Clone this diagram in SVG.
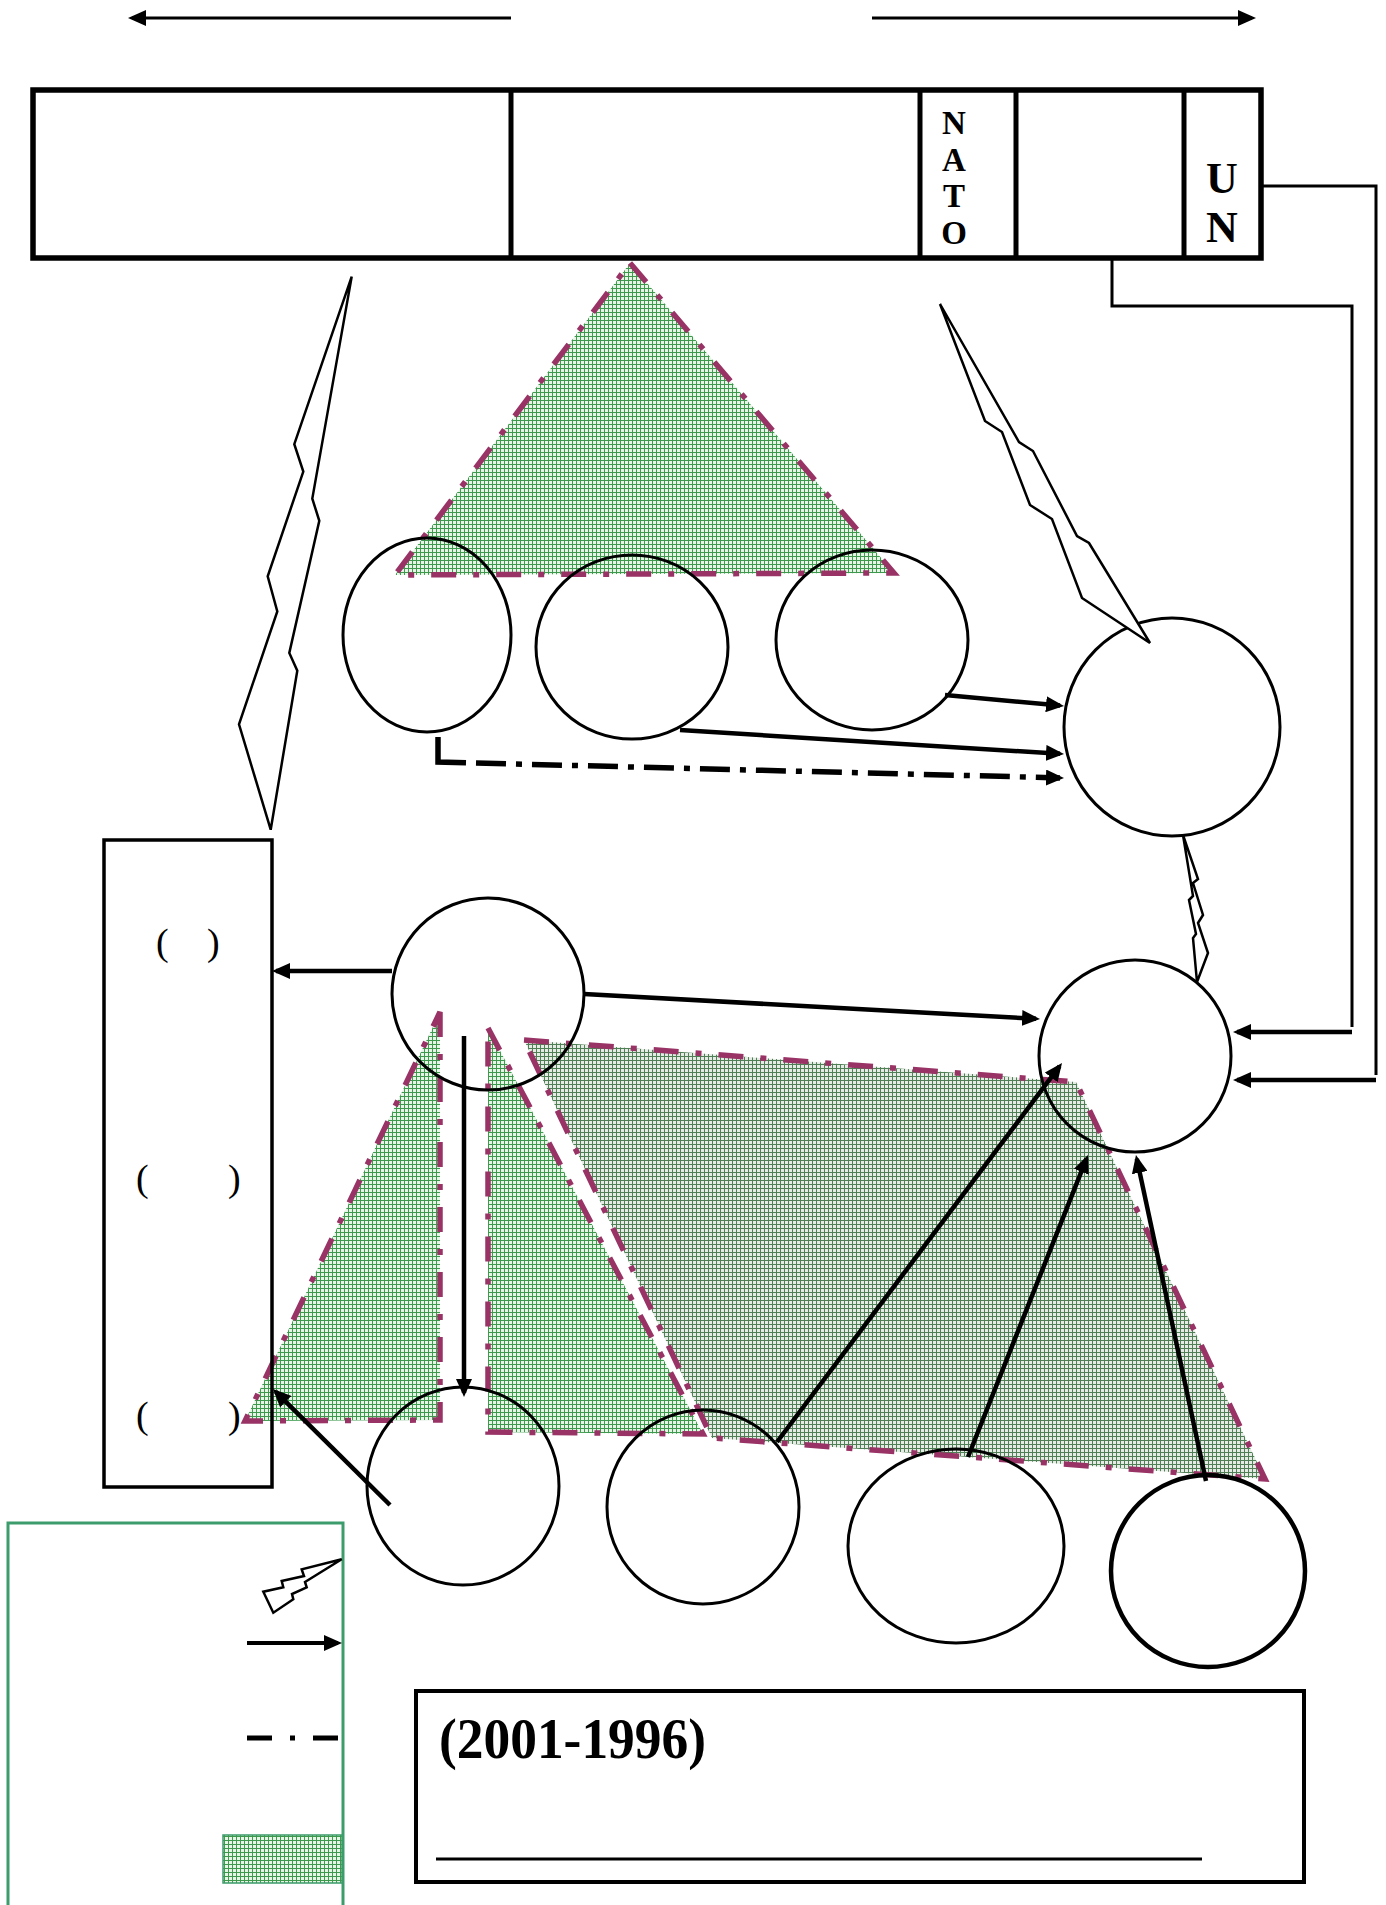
<svg xmlns="http://www.w3.org/2000/svg" width="1386" height="1905" viewBox="0 0 1386 1905">
<style>
.ln{fill:none;stroke:#000;stroke-width:3}
.th{fill:none;stroke:#000;stroke-width:5}
.ar{fill:none;stroke:#000;stroke-width:4.5;marker-end:url(#ah)}
.dd{fill:none;stroke:#000;stroke-width:5.5;stroke-dasharray:30 10 6 10}
.ov{fill:none;stroke:#000;stroke-width:3}
.shade{stroke:#993366;stroke-width:5.5;stroke-dasharray:25 17 6 17}
.bolt{fill:#fff;stroke:#000;stroke-width:2.5;stroke-linejoin:miter}
.tb{font-family:"Liberation Serif","Times New Roman",serif;font-weight:bold;text-anchor:middle}
.pr{font-family:"Liberation Serif","Times New Roman",serif;font-size:38px}
</style>
<defs>
<marker id="ah" markerUnits="userSpaceOnUse" markerWidth="18" markerHeight="16" viewBox="0 0 18 16" refX="14" refY="8" orient="auto"><path d="M0,0 L18,8 L0,16 z" fill="#000"/></marker>
<pattern id="g1" patternUnits="userSpaceOnUse" width="4" height="4"><rect width="4" height="4" fill="#e8f4e8"/><rect width="4" height="1" fill="#3d9a4d"/><rect width="1" height="4" fill="#3d9a4d"/></pattern>
<pattern id="g2" patternUnits="userSpaceOnUse" width="4" height="4"><rect width="4" height="4" fill="#e6ebe6"/><rect width="4" height="1" fill="#4f7f55"/><rect width="1" height="4" fill="#4f7f55"/></pattern>
</defs>
<rect width="1386" height="1905" fill="#fff"/>

<g id="regions">
<polygon class="shade" fill="url(#g1)" points="630,263 894,573 395,575"/>
<polygon class="shade" fill="url(#g2)" points="524,1040 1076,1082 1265,1479 712,1438"/>
<polygon class="shade" fill="url(#g1)" points="488,1028 703,1434 488,1432"/>
<polygon class="shade" fill="url(#g1)" points="440,1012 440,1420 245,1421"/>
</g>

<g id="topbar">
<rect x="33" y="90" width="1228" height="168" fill="none" stroke="#000" stroke-width="5.5"/>
<g id="cell-nato"><line class="th" x1="920" y1="90" x2="920" y2="258"/>
<text class="tb" font-size="33" x="954" y="134">N</text>
<text class="tb" font-size="33" x="954" y="171">A</text>
<text class="tb" font-size="33" x="954" y="207">T</text>
<text class="tb" font-size="33" x="954" y="244">O</text></g>
<line class="th" x1="511" y1="90" x2="511" y2="258"/>
<line class="th" x1="1016" y1="90" x2="1016" y2="258"/>
<g id="cell-un"><line class="th" x1="1184" y1="90" x2="1184" y2="258"/>
<text class="tb" font-size="44" x="1222" y="193">U</text>
<text class="tb" font-size="44" x="1222" y="242">N</text></g>
</g>

<g id="nodes">
<ellipse id="c1" class="ov" cx="427" cy="635" rx="84" ry="97"/>
<ellipse id="c2" class="ov" cx="632" cy="647" rx="96" ry="92"/>
<ellipse id="c3" class="ov" cx="872" cy="640" rx="96" ry="90"/>
<ellipse id="c4" class="ov" cx="1172" cy="727" rx="108" ry="109"/>
<ellipse id="c5" class="ov" cx="488" cy="994" rx="96" ry="96"/>
<ellipse id="c6" class="ov" cx="1135" cy="1056" rx="96" ry="96"/>
<ellipse id="c7" class="ov" cx="463" cy="1486" rx="96" ry="99"/>
<ellipse id="c8" class="ov" cx="703" cy="1507" rx="96" ry="97"/>
<ellipse id="c9" class="ov" cx="956" cy="1546" rx="108" ry="97"/>
<ellipse id="c10" cx="1208" cy="1571" rx="97" ry="96" fill="none" stroke="#000" stroke-width="4.5"/>
<g id="sidebox">
<rect x="104" y="840" width="168" height="647" fill="none" stroke="#000" stroke-width="3.5"/>
<text class="pr" x="156" y="955">(<tspan x="207">)</tspan></text>
<text class="pr" x="136" y="1191">(<tspan x="228">)</tspan></text>
<text class="pr" x="136" y="1428">(<tspan x="228">)</tspan></text>
</g>
<g id="legend">
<rect x="8" y="1523" width="335" height="420" fill="none" stroke="#3d9c6b" stroke-width="3"/>
<polygon class="bolt" points="341.7,1559.3 301.7,1569.3 304,1576 281.7,1581 283.3,1587.3 263.3,1591.7 273.3,1612.7 293.3,1599.3 292,1594 306.7,1587.3 305,1582 341.7,1559.3"/>
<line x1="247" y1="1643" x2="338" y2="1643" stroke="#000" stroke-width="4" marker-end="url(#ah)"/>
<line x1="247" y1="1738" x2="340" y2="1738" stroke="#000" stroke-width="5" stroke-dasharray="25 18 5 18"/>
<rect x="223" y="1835" width="119" height="48" fill="url(#g1)" stroke="#3d9c6b" stroke-width="1.5"/>
</g>
<g id="datebox">
<rect x="416" y="1691" width="888" height="191" fill="none" stroke="#000" stroke-width="4"/>
<text x="439" y="1758" font-family="Liberation Serif,'Times New Roman',serif" font-weight="bold" font-size="56" textLength="267" lengthAdjust="spacingAndGlyphs">(2001-1996)</text>
<line x1="436" y1="1859" x2="1202" y2="1859" stroke="#000" stroke-width="3"/>
</g>
</g>

<g id="connectors">
<line x1="511" y1="18" x2="132" y2="18" stroke="#000" stroke-width="3" marker-end="url(#ah)"/>
<line x1="872" y1="18" x2="1252" y2="18" stroke="#000" stroke-width="3" marker-end="url(#ah)"/>
<polygon class="bolt" points="351.7,276.6 294.3,444.2 303.3,471.6 267.7,576.3 277.3,611.5 239,724.3 270.7,829.7 297.3,670.7 289.3,652.9 319.3,520.8 312.3,498.6"/>
<polygon class="bolt" fill="none" points="940,304 985,421 1002,432 1030,505 1052,519 1082,598 1150,643 1089,543 1077,536 1033,451 1019,442"/>
<polygon class="bolt" points="1183,835 1198,879 1193,883 1203,915 1198,923 1208,953 1197,982 1193,938 1196,934 1189,900 1193,896"/>
<line class="ar" x1="945" y1="695" x2="1060" y2="705.6"/>
<line class="ar" x1="680" y1="730" x2="1060" y2="753.8"/>
<path d="M438,737 L438,762 L466,762.7" fill="none" stroke="#000" stroke-width="5.5"/>
<path class="dd" d="M476,763 L1060,777.9" marker-end="url(#ah)"/>
<line class="ar" x1="392" y1="971" x2="276" y2="971"/>
<line class="ar" x1="584" y1="994" x2="1036" y2="1018.8"/>
<line class="ar" x1="464" y1="1036" x2="464" y2="1393"/>
<line class="ar" x1="390" y1="1505" x2="275.8" y2="1391.8"/>
<line class="ar" x1="777" y1="1442" x2="1059.6" y2="1066.2"/>
<line class="ar" x1="968" y1="1457" x2="1086.5" y2="1158.7"/>
<line class="ar" x1="1206" y1="1481" x2="1136.8" y2="1158.9"/>
<path class="ln" d="M1261,186 H1376 V1075"/>
<line class="ar" x1="1376" y1="1080" x2="1237" y2="1080"/>
<path class="ln" d="M1112,258 V306 H1352 V1027"/>
<line class="ar" x1="1352" y1="1032" x2="1237" y2="1032"/>
</g>
</svg>
